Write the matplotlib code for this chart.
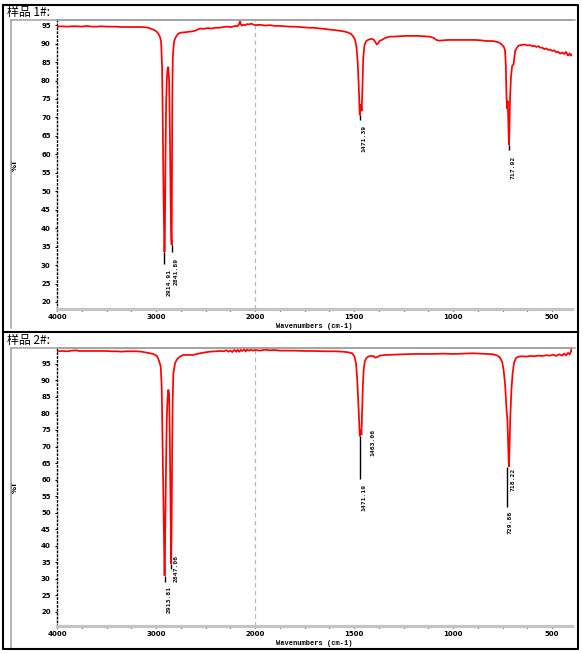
import numpy as np
import matplotlib
matplotlib.use('Agg')
import matplotlib.pyplot as plt
from matplotlib.lines import Line2D

# ---------------- data ----------------
wn1 = [4000, 3950, 3900, 3850, 3800, 3750, 3700, 3650, 3600, 3550, 3500, 3450, 3400, 3350,
       3300, 3250, 3200, 3150, 3100, 3078, 3050, 3027, 3000, 2977, 2960, 2949, 2939, 2932,
       2925, 2918, 2914.91, 2910, 2905, 2898, 2890, 2882, 2876, 2868, 2860, 2852, 2846,
       2841.89, 2836, 2831, 2825, 2818, 2810, 2801, 2790, 2775, 2760, 2740, 2700, 2674,
       2640, 2606, 2580, 2556, 2520, 2480, 2440, 2400, 2360, 2320, 2280, 2240, 2200, 2180,
       2165, 2158, 2152, 2145, 2135, 2120, 2100, 2080, 2060, 2040, 2020, 2000,
       1975, 1950, 1925, 1900, 1875, 1850, 1825, 1800, 1775, 1750, 1725, 1700, 1675, 1650,
       1625, 1600, 1575, 1550, 1530, 1515, 1505, 1495, 1488, 1482, 1477, 1473, 1471.39,
       1468, 1465, 1462, 1458, 1454, 1448, 1440, 1430, 1420, 1410, 1400, 1392, 1386, 1380,
       1372, 1360, 1340, 1320, 1300, 1270, 1240, 1210, 1180, 1150, 1120, 1100, 1085, 1070,
       1050, 1020, 1000, 980, 950, 920, 890, 860, 830, 800, 780, 765, 752, 745, 738, 734,
       731, 728, 725, 722, 719.5, 717.92, 716, 713, 708, 702, 695, 687, 679, 671, 660, 648,
       636, 625, 612, 600, 590, 580, 570, 560, 550, 540, 530, 520, 510, 500, 490, 480, 470,
       460, 450, 440, 430, 420, 412, 405, 400]
t1 = [94.6, 94.7, 94.6, 94.7, 94.7, 94.6, 94.8, 94.6, 94.6, 94.7, 94.6, 94.6, 94.6, 94.5,
      94.5, 94.5, 94.5, 94.5, 94.4, 94.3, 94.0, 93.8, 93.4, 92.7, 91.8, 90.5, 83.7, 69.0,
      50.0, 38.0, 33.5, 40.0, 58.0, 74.0, 81.0, 83.5, 83.7, 80.0, 66.0, 46.0, 37.0,
      35.4, 75.0, 86.0, 88.5, 90.5, 91.2, 91.7, 92.2, 92.7, 92.9, 93.0, 93.1, 93.2,
      93.3, 93.5, 93.8, 94.1, 94.0, 94.2, 94.1, 94.3, 94.3, 94.5, 94.6, 94.5, 94.8, 94.7,
      95.1, 95.6, 96.1, 95.3, 94.9, 95.1, 95.0, 95.3, 95.2, 95.4, 95.2, 95.0,
      95.1, 94.9, 95.0, 94.8, 94.8, 94.7, 94.6, 94.6, 94.5, 94.4, 94.3, 94.3, 94.1, 94.0,
      93.8, 93.7, 93.5, 93.3, 93.0, 92.6, 92.0, 91.0, 89.0, 85.0, 79.0, 72.5, 70.6,
      72.0, 73.5, 71.8, 78.0, 86.0, 89.5, 90.6, 91.0, 91.2, 91.3, 91.0, 90.3, 89.8, 90.0,
      90.7, 91.0, 91.6, 91.9, 91.9, 92.0, 92.1, 92.1, 92.1, 92.0, 91.9, 91.6, 91.0, 90.8,
      90.9, 91.0, 91.0, 91.0, 91.0, 91.0, 91.0, 90.9, 90.7, 90.7, 90.5, 90.2, 89.6, 89.2, 88.2, 84.0,
      76.0, 72.3, 74.5, 70.0, 64.5, 62.5, 66.0, 75.0, 81.0, 84.0, 84.4, 88.0, 88.8, 89.4, 89.6, 89.7,
      89.7, 89.5, 89.6, 89.3, 89.4, 89.1, 89.3, 88.9, 88.9, 88.5, 88.7, 88.3, 88.4, 88.0, 88.2, 87.7, 87.8,
      87.3, 87.6, 87.2, 87.8, 86.7, 87.3, 86.8, 87.1]

wn2 = [4000, 3950, 3900, 3850, 3800, 3780, 3750, 3700, 3650, 3600, 3550, 3500, 3450, 3400,
       3350, 3300, 3250, 3200, 3150, 3094, 3060, 3030, 3000, 2987, 2967, 2953, 2943, 2935,
       2925, 2918, 2913.81, 2908, 2900, 2892, 2884, 2876, 2868, 2862, 2855, 2850, 2847.06,
       2843, 2837, 2832, 2825, 2808, 2791, 2775, 2758, 2724, 2680, 2623, 2590, 2556, 2500,
       2450, 2400, 2354, 2320, 2290, 2270, 2250, 2230, 2210, 2190, 2175, 2160, 2145, 2130,
       2110, 2095, 2080, 2060, 2040, 2020, 2000, 1975, 1950, 1925, 1900, 1875, 1850, 1800,
       1750, 1700, 1650, 1600, 1560, 1530, 1510, 1498, 1490, 1484, 1478, 1474, 1471.19,
       1468, 1465, 1463.06, 1460, 1456, 1452, 1446, 1438, 1428, 1415, 1400, 1395, 1385,
       1370, 1340, 1300, 1250, 1200, 1150, 1100, 1050, 1000, 950, 900, 860, 830, 800, 780,
       765, 752, 745, 738, 734, 731, 729.86, 726, 722, 719.5, 718.22, 716, 712, 706, 700,
       692, 682, 670, 650, 630, 610, 590, 570, 550, 530, 510, 495, 480, 465, 450, 440, 430,
       420, 412, 406, 402, 400]
t2 = [98.8, 98.9, 98.8, 99.0, 99.1, 98.9, 98.9, 98.9, 98.9, 98.9, 98.9, 98.9, 98.8, 98.8,
      98.7, 98.8, 98.8, 98.8, 98.7, 98.4, 98.2, 98.0, 97.6, 97.2, 95.7, 94.2, 88.2, 72.0,
      50.0, 36.0, 30.9, 42.0, 62.0, 78.0, 84.5, 87.2, 86.0, 75.0, 55.0, 40.0, 34.5,
      45.0, 70.0, 84.0, 92.2, 95.2, 96.2, 96.8, 97.2, 97.7, 97.7, 97.7, 98.0, 98.2, 98.5,
      98.7, 98.8, 98.9, 98.8, 99.1, 98.7, 99.0, 98.6, 99.2, 98.7, 99.3, 98.6, 99.2, 98.9,
      99.4, 98.8, 99.3, 99.0, 99.3, 99.0, 99.2, 99.0, 99.3, 99.1, 99.2, 99.0, 99.0, 99.0,
      98.9, 98.9, 98.8, 98.8, 98.7, 98.5, 98.2, 97.2, 95.0, 90.0, 82.0, 76.0, 73.1,
      75.0, 74.5, 73.5, 80.0, 88.0, 93.0, 95.8, 96.8, 97.2, 97.4, 97.3, 96.9, 97.0,
      97.5, 97.7, 97.8, 97.9, 98.0, 98.0, 98.0, 98.1, 98.0, 98.1, 98.2, 98.1, 98.0, 97.9, 97.6,
      97.0, 95.5, 93.0, 89.0, 85.0, 82.0, 80.6, 78.0, 70.0, 65.0, 63.9, 68.0, 78.0, 87.0, 92.0,
      95.5, 96.8, 97.2, 97.3, 97.2, 97.4, 97.3, 97.5, 97.4, 97.6, 97.5, 97.8, 97.4, 97.9, 97.5, 98.1, 97.6,
      98.3, 97.9, 98.6, 99.6, 99.0]

# peak annotations
pk1_wn = [2914.91, 2841.89, 1471.39, 717.92]
pk1_lbl = ["2914.91", "2841.89", "1471.39", "717.92"]
pk1_val = [33.5, 35.4, 70.6, 62.5]

pk2_wn = [2913.81, 2847.06, 1463.06, 1471.19, 718.22, 729.86]
pk2_lbl = ["2913.81", "2847.06", "1463.06", "1471.19", "718.22", "729.86"]
pk2_val = [30.9, 34.5, 73.5, 73.1, 63.9, 63.9]

titles = ["样品 1#:", "样品 2#:"]
xtick_vals = [4000, 3000, 2000, 1500, 1000, 500]
xtick_lbls = ["4000", "3000", "2000", "1500", "1000", "500"]
xminor_vals = [3750, 3500, 3250, 2750, 2500, 2250, 1875, 1750, 1625, 1375, 1250, 1125,
               875, 750, 625]
ytick_vals = [20, 25, 30, 35, 40, 45, 50, 55, 60, 65, 70, 75, 80, 85, 90, 95]

# ---------------- styling / layout (pixels) ----------------
W, H = 583, 653
fig = plt.figure(figsize=(W / 100, H / 100), dpi=100)
fig.patch.set_facecolor('white')


def fx(px):
    return px / W


def fy(py):
    return 1 - py / H


def fwd(w):
    w = np.asarray(w, dtype=float)
    return np.where(w >= 2000, w / 1000.0, w / 500.0 - 2.0)


def inv(t):
    t = np.asarray(t, dtype=float)
    return np.where(t >= 2, t * 1000.0, (t + 2.0) * 500.0)


TICKFONT = ['Liberation Sans Narrow', 'DejaVu Sans']
MONO = 'DejaVu Sans Mono'
CJK = ['Noto Sans CJK SC', 'DejaVu Sans']

panels = [
    dict(top=20, bottom=309, ylim=(18.1, 96.4), wn=wn1, t=t1,
         pw=pk1_wn, pl=pk1_lbl, pv=pk1_val,
         lead=[3.1, 1.9, 1.2, 1.4], dx=[5, 4.4, 4.3, 4.3], gap=[5, 6, 5.7, 5],
         title_y=12.5, box_bottom=328),
    dict(top=348, bottom=626, ylim=(15.7, 99.8), wn=wn2, t=t2,
         pw=pk2_wn, pl=pk2_lbl, pv=pk2_val,
         lead=[2.0, 1.5, 0.0, 13.0, 0.0, 12.3], dx=[5, 5, 11.7, 4.3, 3.7, 3.5],
         gap=[3.4, -14, -6.4, 5, 0.7, 3.4],
         title_y=340.5, box_bottom=649),
]

for i, p in enumerate(panels):
    ax = fig.add_axes([fx(57), fy(p['bottom']), fx(572 - 57), (p['bottom'] - p['top']) / H])
    ax.set_xscale('function', functions=(fwd, inv))
    ax.axvline(2000, color='#b4b4b4', lw=0.8, linestyle=(0, (4, 3)), zorder=1)
    ax.plot(p['wn'], p['t'], color='#ff0000', lw=1.25, zorder=3, solid_joinstyle='miter')
    ax.set_xlim(4000, 400)
    ax.set_ylim(*p['ylim'])

    # peak leaders and labels
    for w, lab, v, L, d, g in zip(p['pw'], p['pl'], p['pv'], p['lead'], p['dx'], p['gap']):
        if L > 0:
            ax.plot([w, w], [v, v - L], color='black', lw=1.0, zorder=4, solid_capstyle='butt')
        ax.annotate(lab, xy=(w, v - L), xytext=(d, -g), textcoords='offset pixels',
                    rotation=90, ha='center', va='top', fontsize=4.6,
                    family=MONO, fontweight='bold', color='#101010', zorder=5)

    # ticks
    ax.set_xticks(xtick_vals)
    ax.set_xticklabels(xtick_lbls)
    ax.set_xticks(xminor_vals, minor=True)
    ax.set_yticks(ytick_vals)
    ax.set_yticklabels([str(v) for v in ytick_vals])
    ax.tick_params(axis='x', which='both', direction='out', length=1.6, width=0.9,
                   color='black', pad=2.0)
    ax.tick_params(axis='y', which='both', direction='out', length=1.5, width=0.8,
                   color='black', pad=3.0)
    for lab in ax.get_xticklabels() + ax.get_yticklabels():
        lab.set_family(TICKFONT)
        lab.set_fontsize(5)
        lab.set_fontweight('bold')

    # spines
    ax.spines['right'].set_visible(False)
    ax.spines['top'].set_color('#a0a0a0')
    ax.spines['top'].set_linewidth(1.1)
    ax.spines['bottom'].set_color('#c4c4c4')
    ax.spines['bottom'].set_linewidth(2.3)
    ax.spines['left'].set_color('black')
    ax.spines['left'].set_linewidth(1.0)
    ax.spines['left'].set_linestyle((0, (1, 1.8)))

    ax.set_xlabel('Wavenumbers (cm-1)', fontsize=5, family='Liberation Mono', fontweight='bold')
    ax.xaxis.set_label_coords(0.5, -14.0 / (p['bottom'] - p['top']))
    ax.set_ylabel('%T', fontsize=5, family='DejaVu Sans', fontweight='bold')
    ax.yaxis.set_label_coords(-39.5 / 515, 0.5)

    # panel title
    fig.text(fx(7), fy(p['title_y']), titles[i], fontsize=8.6, family=CJK,
             ha='left', va='center', color='black')

    # grey container box (top and left edges)
    fig.add_artist(Line2D([fx(11), fx(575)], [fy(p['top']), fy(p['top'])],
                          transform=fig.transFigure, color='#a0a0a0', lw=1.1))
    fig.add_artist(Line2D([fx(11), fx(11)], [fy(p['top']), fy(p['box_bottom'])],
                          transform=fig.transFigure, color='#a0a0a0', lw=1.1))

# outer black frame and separator
frame_x = [fx(2.5), fx(578), fx(578), fx(2.5), fx(2.5)]
frame_y = [fy(4.5), fy(4.5), fy(649), fy(649), fy(4.5)]
fig.add_artist(Line2D(frame_x, frame_y, transform=fig.transFigure, color='black', lw=1.5))
fig.add_artist(Line2D([fx(2.5), fx(578)], [fy(332), fy(332)], transform=fig.transFigure,
                      color='black', lw=1.5))

fig.savefig('out.png', dpi=100, facecolor='white')
